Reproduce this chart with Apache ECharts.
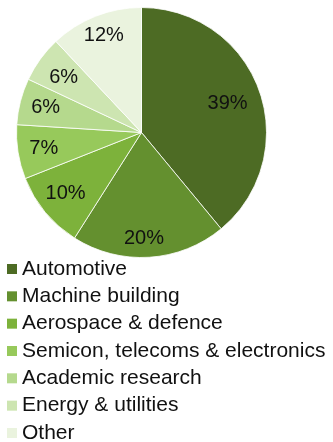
<!DOCTYPE html>
<html>
<head>
<meta charset="utf-8">
<script src="https://cdn.jsdelivr.net/npm/echarts@6/dist/echarts.min.js"></script>
<style>
  html, body { margin: 0; padding: 0; background: #fff; }
  #chart { width: 333px; height: 442px; }
</style>
</head>
<body>
<div id="chart"></div>
<script>
// Sector shares (%)
const categories = [
  'Automotive',
  'Machine building',
  'Aerospace & defence',
  'Semicon, telecoms & electronics',
  'Academic research',
  'Energy & utilities',
  'Other'
];
const shares = [39, 20, 10, 7, 6, 6, 12];
const palette = ['#4d6b24', '#64902f', '#7db23b', '#97c95b', '#b5d98d', '#cde5b1', '#eaf3de'];
// small per-label nudges [dx, dy] applied after the library places each label
const labelNudge = [
  [-7.1, 4.5],
  [-3.7, 7.2],
  [0.4, -1.7],
  [0, 0],
  [0, 0],
  [2.2, 2.7],
  [-1.2, -4.5]
];

const FONT = '"Liberation Sans", Arial, Helvetica, sans-serif';
const center = [141.5, 132.5];
const R = 125;

const chart = echarts.init(document.getElementById('chart'), null, { renderer: 'canvas' });

chart.setOption({
  animation: false,
  color: palette,
  legend: {
    orient: 'vertical',
    left: 7,
    top: 257,
    height: 200,
    padding: 0,
    icon: 'rect',
    itemWidth: 10,
    itemHeight: 10,
    itemGap: 3.33,
    itemStyle: { borderWidth: 0 },
    textStyle: { fontFamily: FONT, fontSize: 21, color: '#111', lineHeight: 24 },
    data: categories
  },
  series: [
    {
      // the filled slices
      type: 'pie',
      center: center,
      radius: [0, R],
      startAngle: 90,
      clockwise: true,
      label: { show: false },
      labelLine: { show: false },
      itemStyle: { borderColor: '#ffffff', borderWidth: 0.8 },
      emphasis: { disabled: true },
      data: categories.map((name, i) => ({ name, value: shares[i] }))
    },
    {
      // transparent ring that carries the percentage labels
      type: 'pie',
      center: center,
      radius: [67, R],
      startAngle: 90,
      clockwise: true,
      silent: true,
      itemStyle: { color: 'rgba(0,0,0,0)', borderWidth: 0 },
      label: {
        show: true,
        position: 'inside',
        formatter: p => p.value + '%',
        fontFamily: FONT,
        fontSize: 20,
        color: '#111'
      },
      labelLayout: p => ({ dx: labelNudge[p.dataIndex][0], dy: labelNudge[p.dataIndex][1] }),
      labelLine: { show: false },
      emphasis: { disabled: true },
      data: categories.map((name, i) => ({ name, value: shares[i] }))
    }
  ]
});
</script>
</body>
</html>
